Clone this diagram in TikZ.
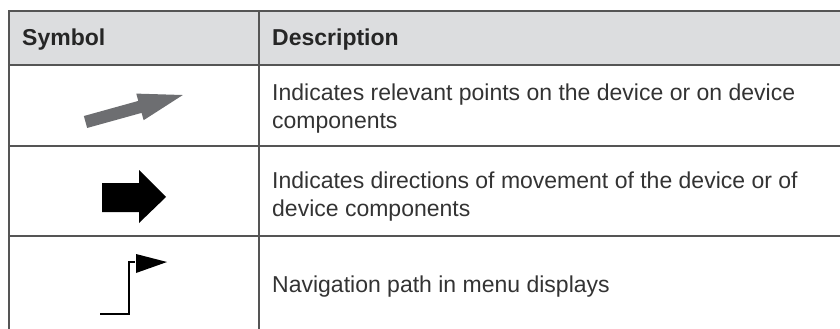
\documentclass[tikz,border=0pt]{standalone}
\usepackage{fontspec}
\setmainfont{Liberation Sans}
\usetikzlibrary{positioning}
\definecolor{rulegray}{HTML}{555555}
\definecolor{headgray}{HTML}{DCDDDF}
\definecolor{arrowgray}{HTML}{6D6E71}
\definecolor{textgray}{HTML}{333333}

\begin{document}
\begin{tikzpicture}[x=1pt,y=-1pt,
  rule/.style={draw=rulegray,line width=1.4pt},
  headtext/.style={anchor=base west,inner sep=0pt,font=\fontsize{23}{28}\selectfont\bfseries,text=black!85},
  bodytext/.style={anchor=west,inner sep=0pt,align=left,font=\fontsize{23}{28}\selectfont,text=textgray},
  navline/.style={line width=2.2pt,line join=miter}]
  \useasboundingbox (0,0) rectangle (840,329) ;

  \pgfmathsetmacro {\xl}{9}     %left border
  \pgfmathsetmacro {\xc}{259}   %column divider
  \pgfmathsetmacro {\xr}{840}   %right end of rules
  \pgfmathsetmacro {\yt}{11}    %top border
  \pgfmathsetmacro {\yh}{65}    %bottom of header
  \pgfmathsetmacro {\ya}{146}   %bottom of row 1
  \pgfmathsetmacro {\yb}{236}   %bottom of row 2
  \pgfmathsetmacro {\ye}{329}   %table runs off the page
  \pgfmathsetmacro {\pd}{13}    %cell padding

  %Header
  \fill[headgray] (\xl,\yt) rectangle (\xr,\yh) ;
  \node[headtext] (symhead) at (\xl+\pd,46) {Symbol};
  \node[headtext] (deschead) at (\xc+\pd,46) {Description};

  %Rules
  \draw[rule] (\xr,\yt) -- (\xl,\yt) -- (\xl,\ye) ; %Top and left border
  \draw[rule] (\xc,\yt) -- (\xc,\ye) ;  %Column divider
  \draw[rule] (\xl,\yh) -- (\xr,\yh) ;  %Header line
  \draw[rule] (\xl,\ya) -- (\xr,\ya) ;  %Row 1 line
  \draw[rule] (\xl,\yb) -- (\xr,\yb) ;  %Row 2 line

  %Descriptions
  \node[bodytext] (desc1) at (\xc+\pd,{(\yh+\ya)/2+3}) {Indicates relevant points on the device or on device\\components};
  \node[bodytext] (desc2) at (\xc+\pd,{(\ya+\yb)/2+6}) {Indicates directions of movement of the device or of\\device components};
  \node[bodytext] (desc3) at (\xc+\pd,287) {Navigation path in menu displays};

  %Gray pointer arrow
  \begin{scope}[shift={(85.5,122)},rotate=15.5]
    \fill[arrowgray] (0,-6.2) -- (56.5,-6.2) -- (56.5,-13.8) -- (101,0)
      -- (56.5,13.8) -- (56.5,6.2) -- (0,6.2) -- cycle ;
  \end{scope}

  %Black movement arrow
  \fill[black] (102,183) -- (139,183) -- (139,170) -- (166,197)
    -- (139,223) -- (139,212) -- (102,212) -- cycle ;

  %Navigation path with flag
  \draw[navline] (100,314) -- (129,314) -- (129,262) -- (135,262) ;
  \fill[black] (136,254) -- (167,262) -- (136,273) -- cycle ;

\end{tikzpicture}
\end{document}
